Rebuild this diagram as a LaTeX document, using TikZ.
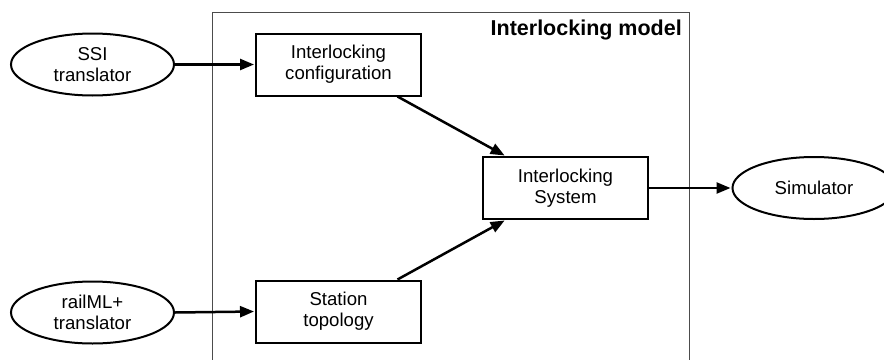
\documentclass[tikz,border=0pt]{standalone}
\usepackage{fontspec}
\setmainfont{Liberation Sans}
\usetikzlibrary{arrows.meta,shapes.geometric}
\begin{document}
\begin{tikzpicture}[x=1pt,y=-1pt,
  txt/.style={font=\fontsize{18.6}{21}\selectfont, align=center, inner sep=0pt},
  procbox/.style={txt, draw=black, line width=2pt, minimum width=165pt, minimum height=62pt},
  srcell/.style={txt, ellipse, draw=black, line width=2pt, minimum width=163pt, minimum height=62pt},
  flow/.style={line width=2.5pt, -{Triangle[length=14pt,width=11pt]}, shorten >=1pt},
  frame/.style={draw=black!70, line width=1pt}
]
\useasboundingbox (0,0) rectangle (884,359);
\clip (0,0) rectangle (884,359);
\fill[white] (0,0) rectangle (884,359);
% outer model frame
\draw[frame] (212,12.5) -- (689,12.5) -- (689,380) -- (212,380) -- cycle;
\node[anchor=east, font=\fontsize{21.5}{24}\selectfont\bfseries, inner sep=0pt] (title) at (682,30) {Interlocking model};
% nodes
\node[srcell] (ssi) at (92.5,64.5) {SSI\\translator};
\node[srcell] (rail) at (92.5,312.5) {railML+\\translator};
\node[procbox] (conf) at (338.5,64.5) {Interlocking\\configuration};
\node[procbox] (stat) at (338.5,311.5) {Station\\topology};
\node[procbox] (sys) at (565.5,188) {Interlocking\\System};
\node[srcell] (sim) at (814,188) {Simulator};
% connectors
\draw[flow] (ssi.east) -- (conf.west);
\draw[flow] (rail.east) -- (stat.west);
\draw[flow] ([xshift=59pt]conf.south) -- ([xshift=-60pt]sys.north);
\draw[flow] ([xshift=59pt]stat.north) -- ([xshift=-60pt]sys.south);
\draw[flow] (sys.east) -- (sim.west);
\end{tikzpicture}
\end{document}
